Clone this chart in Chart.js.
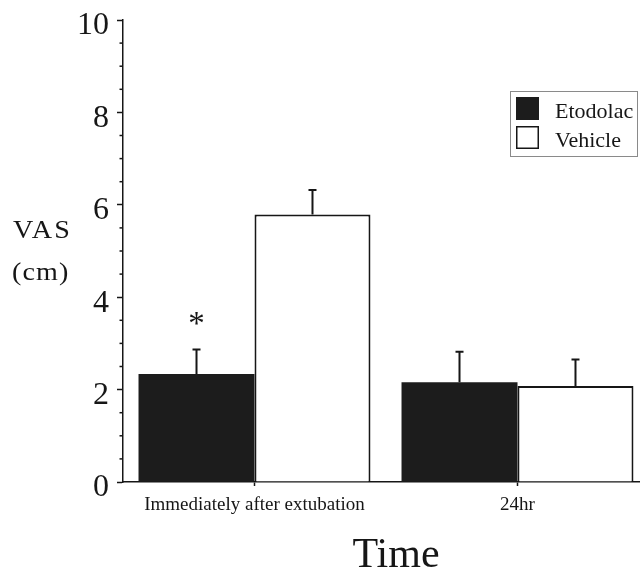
<!DOCTYPE html>
<html><head><meta charset="utf-8">
<script src="https://cdn.jsdelivr.net/npm/chart.js@4.4.0/dist/chart.umd.min.js"></script>
<style>
html,body{margin:0;padding:0;overflow:hidden;background:#fff;width:640px;height:573px}
#wrap{position:absolute;left:0;top:0;width:660px;height:573px}
</style>
</head><body><div id="wrap"><canvas id="c" width="660" height="573"></canvas></div>
<script>
const categories = ['Immediately after extubation', '24hr'];
const etodolac = [2.34, 2.16];
const etodolacErr = [0.53, 0.66];
const vehicle = [5.79, 2.08];
const vehicleErr = [0.53, 0.57];
const yTicks = [0, 2, 4, 6, 8, 10];
const yMinorTicks = [0.5, 1, 1.5, 2.5, 3, 3.5, 4.5, 5, 5.5, 6.5, 7, 7.5, 8.5, 9, 9.5];
const significant = [true, false];

const SERIF = '"Liberation Serif", "DejaVu Serif", serif';
const INK = '#161616';

function wideText(ctx, text, x, y, sx, spacing) {
  ctx.save();
  ctx.translate(x, y);
  ctx.scale(sx, 1);
  try { ctx.letterSpacing = spacing; } catch (e) {}
  ctx.fillText(text, 0, 0);
  ctx.restore();
}

const errPlugin = {
  id: 'extras',
  afterDatasetsDraw(chart) {
    const ctx = chart.ctx;
    const ys = chart.scales.y;
    const errs = [etodolacErr, vehicleErr];
    const vals = [etodolac, vehicle];
    ctx.save();
    ctx.strokeStyle = INK;
    ctx.lineWidth = 2;
    chart.data.datasets.forEach((ds, i) => {
      const meta = chart.getDatasetMeta(i);
      meta.data.forEach((el, j) => {
        const top = ys.getPixelForValue(vals[i][j]);
        const e = ys.getPixelForValue(vals[i][j] + errs[i][j]);
        ctx.beginPath();
        ctx.moveTo(el.x, top);
        ctx.lineTo(el.x, e);
        ctx.moveTo(el.x - 4, e);
        ctx.lineTo(el.x + 4, e);
        ctx.stroke();
        if (i === 0 && significant[j]) {
          ctx.fillStyle = INK;
          ctx.font = '33px ' + SERIF;
          ctx.textAlign = 'center';
          ctx.textBaseline = 'alphabetic';
          ctx.fillText('*', el.x, e - 15);
        }
      });
    });
    // minor ticks on y axis
    const xa = chart.chartArea.left;
    ctx.lineWidth = 1.5;
    yMinorTicks.forEach(v => {
      const y = ys.getPixelForValue(v);
      ctx.beginPath();
      ctx.moveTo(xa - 3.5, y);
      ctx.lineTo(xa, y);
      ctx.stroke();
    });
    ctx.restore();
  },
  afterDraw(chart) {
    const ctx = chart.ctx;
    ctx.save();
    ctx.fillStyle = INK;
    ctx.textAlign = 'left';
    ctx.textBaseline = 'alphabetic';
    // y axis title (horizontal)
    ctx.font = '26px ' + SERIF;
    wideText(ctx, 'VAS', 13, 238, 1.08, '2px');
    wideText(ctx, '(cm)', 12, 280, 1.08, '1px');
    // x axis title
    ctx.font = '42px ' + SERIF;
    ctx.textAlign = 'center';
    ctx.fillText('Time', 396, 567);
    // legend
    const lx = 510.5, ly = 91.5, lw = 127, lh = 65;
    ctx.strokeStyle = '#8a8a8a';
    ctx.lineWidth = 1;
    ctx.strokeRect(lx, ly, lw, lh);
    chart.data.datasets.forEach((ds, i) => {
      const sy = 97 + i * 29;
      ctx.fillStyle = ds.backgroundColor;
      ctx.fillRect(516, sy, 23, 23);
      if (ds.borderWidth) {
        ctx.strokeStyle = ds.borderColor;
        ctx.lineWidth = 1.5;
        ctx.strokeRect(516.75, sy + 0.75, 21.5, 21.5);
      }
      ctx.fillStyle = INK;
      ctx.font = '22px ' + SERIF;
      ctx.textAlign = 'left';
      ctx.fillText(ds.label, 555, sy + 21);
    });
    ctx.restore();
  }
};

new Chart(document.getElementById('c'), {
  type: 'bar',
  data: {
    labels: categories,
    datasets: [
      { label: 'Etodolac', data: etodolac, backgroundColor: '#1c1c1c', borderWidth: 0 },
      { label: 'Vehicle', data: vehicle, backgroundColor: '#ffffff', borderColor: INK, borderWidth: 2, borderSkipped: 'bottom' }
    ]
  },
  options: {
    responsive: false,
    animation: false,
    devicePixelRatio: 1,
    categoryPercentage: 0.882,
    barPercentage: 1,
    layout: { padding: { left: 0, top: 20, right: 11, bottom: 0 } },
    plugins: { legend: { display: false }, tooltip: { enabled: false }, title: { display: false } },
    scales: {
      x: {
        grid: { drawOnChartArea: false, offset: false, tickLength: 4, tickColor: INK, tickWidth: 1.5 },
        border: { display: true, color: INK, width: 1.5 },
        ticks: { font: { family: SERIF, size: 19 }, color: INK, padding: 8, maxRotation: 0 },
        afterFit(s) { s.height = 91; s.paddingLeft = 0; s.paddingRight = 0; }
      },
      y: {
        min: 0, max: 10,
        afterBuildTicks(s) { s.ticks = yTicks.map(v => ({ value: v })); },
        grid: { drawOnChartArea: false, tickLength: 6, tickColor: INK, tickWidth: 1.5 },
        border: { display: true, color: INK, width: 1.5 },
        ticks: { font: { family: SERIF, size: 32, lineHeight: 0.8 }, color: INK, padding: 8, labelOffset: 6 },
        afterFit(s) { s.width = 123; s.paddingTop = 0; s.paddingBottom = 0; }
      }
    }
  },
  plugins: [errPlugin]
});
</script>
</body></html>
